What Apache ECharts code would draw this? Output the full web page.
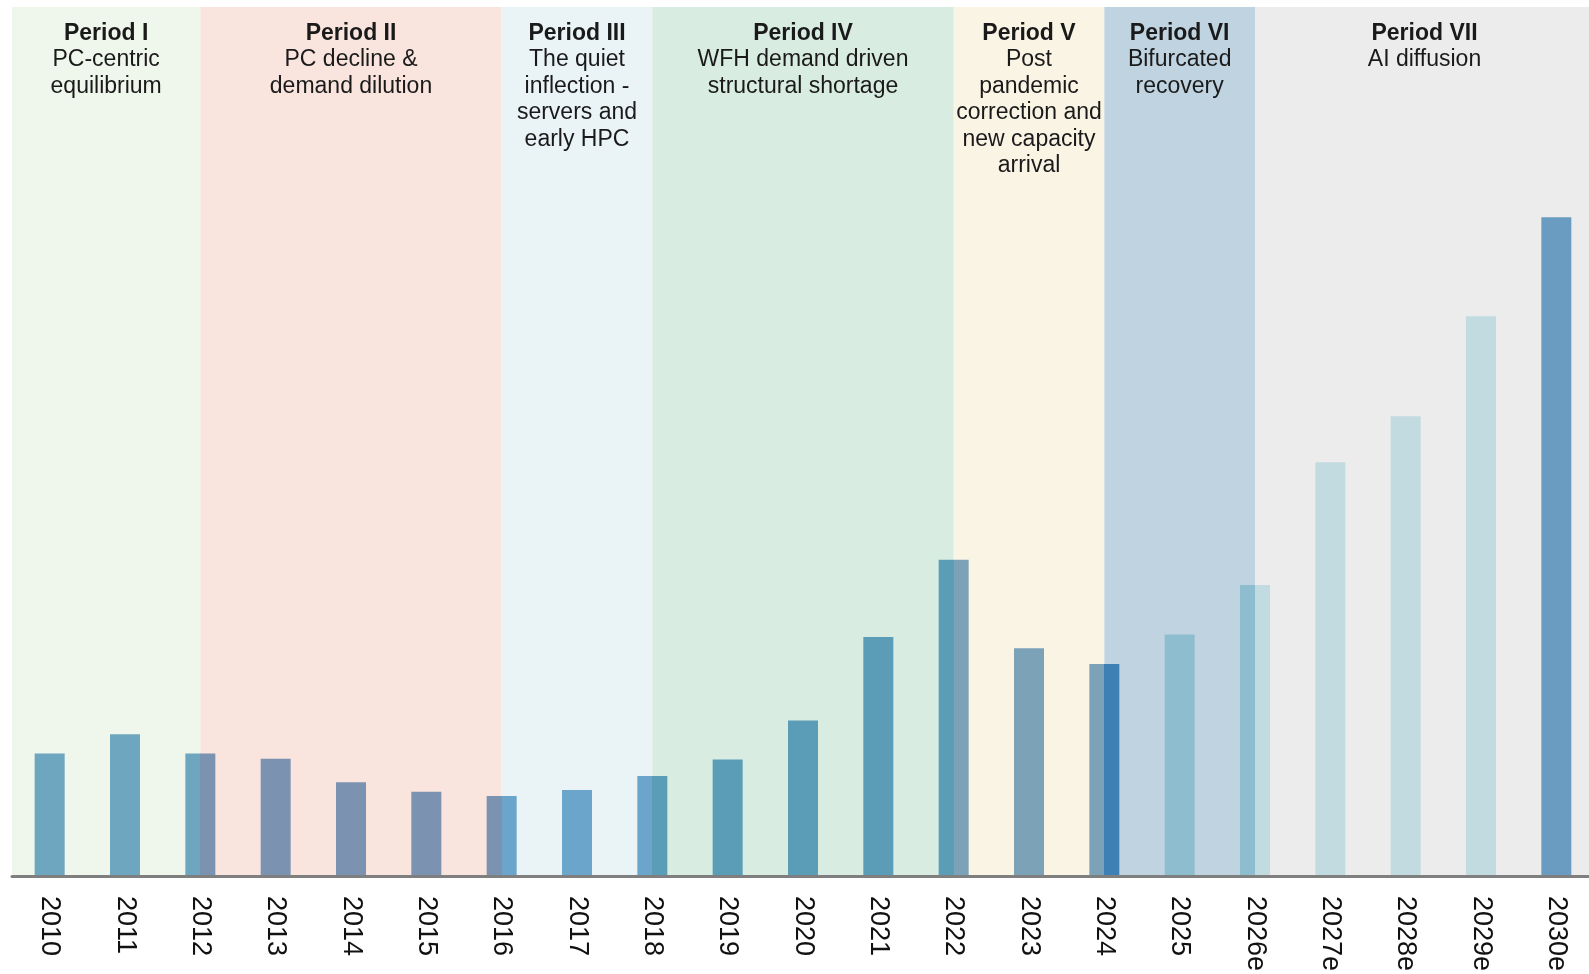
<!DOCTYPE html>
<html>
<head>
<meta charset="utf-8">
<script src="https://cdn.jsdelivr.net/npm/echarts@6/dist/echarts.min.js"></script>
<style>
html,body{margin:0;padding:0;background:#fff;}
#chart{width:1589px;height:974px;}
</style>
</head>
<body>
<div id="chart"></div>
<script>
// ---- data ----
const categories = ['2010','2011','2012','2013','2014','2015','2016','2017','2018','2019','2020','2021','2022','2023','2024','2025','2026e','2027e','2028e','2029e','2030e'];
const values = [14.1, 16.3, 14.1, 13.5, 10.8, 9.7, 9.2, 9.9, 11.5, 13.4, 17.9, 27.5, 36.4, 26.2, 24.4, 27.8, 33.5, 47.6, 52.9, 64.4, 75.8];
const periodTitles = ['Period I','Period II','Period III','Period IV','Period V','Period VI','Period VII'];
const periodTexts = [
  'PC-centric\nequilibrium',
  'PC decline &\ndemand dilution',
  'The quiet\ninflection -\nservers and\nearly HPC',
  'WFH demand driven\nstructural shortage',
  'Post\npandemic\ncorrection and\nnew capacity\narrival',
  'Bifurcated\nrecovery',
  'AI diffusion'
];
// period boundaries expressed as category indices (band edges at category centres)
const periodStart = [-0.5, 2, 6, 8, 12, 14, 16];
const periodEnd   = [2, 6, 8, 12, 14, 16, 20.5];

// ---- styles ----
const bandColors = ['#eff6eb','#f9e4de','#eaf4f7','#d8ece2','#faf4e4','#bfd4e0','#ececec'];
// [left half, right half] colour of each bar
const barHalfColors = [
  ['#6fa6bf','#6fa6bf'],['#6fa6bf','#6fa6bf'],['#6fa6bf','#7b93b1'],
  ['#7b93b1','#7b93b1'],['#7b93b1','#7b93b1'],['#7b93b1','#7b93b1'],['#7b93b1','#6ca5cc'],
  ['#6ca5cc','#6ca5cc'],['#6ca5cc','#5b9cb6'],
  ['#5b9cb6','#5b9cb6'],['#5b9cb6','#5b9cb6'],['#5b9cb6','#5b9cb6'],['#5b9cb6','#7ca2b8'],
  ['#7ca2b8','#7ca2b8'],['#7ca2b8','#3e80b3'],
  ['#8fbdd0','#8fbdd0'],['#8fbdd0','#c2dbe0'],
  ['#c2dbe0','#c2dbe0'],['#c2dbe0','#c2dbe0'],['#c2dbe0','#c2dbe0'],['#6a9bc1','#6a9bc1']
];

const FONT = '"Liberation Sans", Arial, sans-serif';

const barData = values.map((v, i) => {
  const [L, R] = barHalfColors[i];
  const color = (L === R) ? L : {
    type: 'linear', x: 0, y: 0, x2: 1, y2: 0,
    colorStops: [
      {offset: 0, color: L}, {offset: 0.5, color: L},
      {offset: 0.5, color: R}, {offset: 1, color: R}
    ]
  };
  return {value: v, itemStyle: {color: color}};
});

const areas = periodTitles.map((t, i) => ([
  {
    xAxis: periodStart[i],
    itemStyle: {color: bandColors[i]},
    label: {
      show: true,
      position: 'insideTop',
      distance: 13,
      formatter: '{b|' + t + '}\n' + periodTexts[i].split('\n').map(s => '{n|' + s + '}').join('\n'),
      rich: {
        b: {fontFamily: FONT, fontSize: 23, fontWeight: 'bold', color: '#1a1a1a', lineHeight: 26.5, align: 'center'},
        n: {fontFamily: FONT, fontSize: 23, color: '#1a1a1a', lineHeight: 26.5, align: 'center'}
      }
    }
  },
  {xAxis: periodEnd[i]}
]));

const chart = echarts.init(document.getElementById('chart'), null, {renderer: 'canvas'});
chart.setOption({
  animation: false,
  backgroundColor: '#ffffff',
  grid: {left: 12, right: -5, top: 7, bottom: 98, containLabel: false, outerBoundsMode: 'none'},
  xAxis: [
    {
      type: 'category',
      data: categories,
      axisTick: {show: false},
      axisLine: {show: true, lineStyle: {color: '#7f7f7f', width: 3}},
      axisLabel: {rotate: -90, fontSize: 27, color: '#111', fontFamily: FONT, margin: 20, interval: 0},
      z: 10
    },
    {
      type: 'value', min: -0.5, max: 20.5, show: false
    }
  ],
  yAxis: {type: 'value', min: 0, max: 100, show: false, splitLine: {show: false}},
  series: [
    {
      type: 'line',
      xAxisIndex: 1,
      data: [],
      silent: true,
      z: 1,
      markArea: {silent: true, z: 1, data: areas}
    },
    {
      type: 'bar',
      xAxisIndex: 0,
      data: barData,
      barWidth: 30,
      z: 5,
      silent: true
    }
  ]
});
</script>
</body>
</html>
